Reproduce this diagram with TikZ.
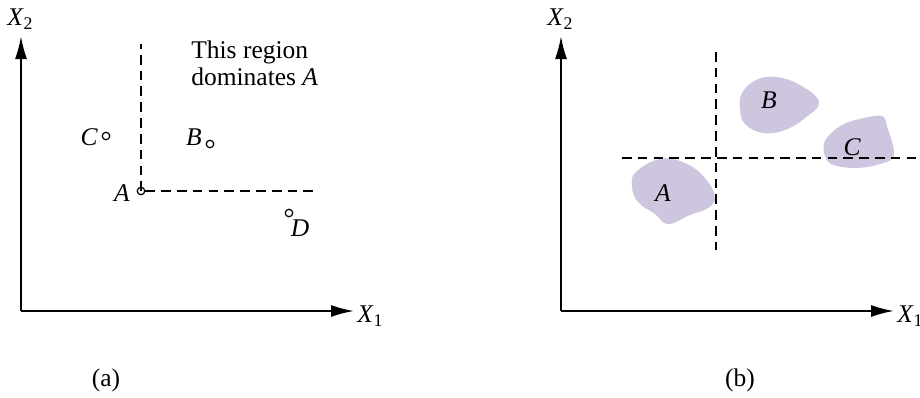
\documentclass[tikz,border=0pt]{standalone}
\usepackage{fontspec}
\setmainfont{Liberation Serif}
\usetikzlibrary{arrows.meta}
\definecolor{blobfill}{RGB}{206,197,222}
\begin{document}
\begin{tikzpicture}[
    x=0.02cm, y=-0.02cm,
    every node/.style={font=\fontsize{14.5}{15.5}\selectfont, inner sep=0pt},
    axisarrow/.style={->, >={Latex[length=4.6mm, width=2.4mm]}, line width=1.1pt},
    dashline/.style={dash pattern=on 5.5pt off 3.5pt, line width=0.8pt},
    ptcircle/.style={circle, draw, line width=0.7pt, minimum size=0.15cm, inner sep=0pt},
    blob/.style={fill=blobfill, draw=none},
    lbl/.style={font=\fontsize{14.5}{15.5}\selectfont\itshape},
]
\useasboundingbox (0,0) rectangle (920,397);

% Panel (a)
\coordinate (Oa) at (21,311);
\coordinate (Ya) at (21,36);
\coordinate (Xa) at (354,311);
\draw[axisarrow] (Oa) -- (Ya);
\draw[axisarrow] (Oa) -- (Xa);
\node[anchor=south west] (X2a) at (7,30) {\textit{X}\textsubscript{2}};
\node[anchor=west] (X1a) at (357,316) {\textit{X}\textsubscript{1}};

\node[ptcircle] (pA) at (141,191) {};
\node[ptcircle] (pB) at (210,144) {};
\node[ptcircle] (pC) at (106,136) {};
\node[ptcircle] (pD) at (289,213) {};
\coordinate (topA) at (141,44);
\coordinate (rightA) at (318,191);
\draw[dashline] (pA.center) -- (topA);
\draw[dashline] (pA.east) -- (rightA);
\node[lbl] (lA) at (122,193) {A};
\node[lbl] (lB) at (194,137) {B};
\node[lbl] (lC) at (89,137) {C};
\node[lbl] (lD) at (300,228) {D};
\node[anchor=north west, align=left] (region) at (191,40) {This region\\dominates \textit{A}};
\node (capa) at (106,380) {(a)};

% Panel (b)
\coordinate (Ob) at (561,311);
\coordinate (Yb) at (561,36);
\coordinate (Xb) at (894,311);
\draw[axisarrow] (Ob) -- (Yb);
\draw[axisarrow] (Ob) -- (Xb);
\node[anchor=south west] (X2b) at (547,30) {\textit{X}\textsubscript{2}};
\node[anchor=west] (X1b) at (897,316) {\textit{X}\textsubscript{1}};

\fill[blob] plot[smooth cycle, tension=0.7] coordinates {(636,172) (660,159) (685,163) (705,178) (715,197) (708,208) (690,215) (668,224) (655,214) (638,202) (632,186)};
\fill[blob] plot[smooth cycle, tension=0.7] coordinates {(742,93) (756,80) (776,77) (800,85) (819,102) (805,118) (785,130) (763,133) (745,124) (740,109)};
\fill[blob] plot[smooth cycle, tension=0.6] coordinates {(826,139) (842,125) (864,118) (882,116) (887,126) (894,155) (880,164) (855,168) (831,164) (824,152)};

\coordinate (vtop) at (716,52);
\coordinate (vbot) at (716,250);
\coordinate (hleft) at (622,158);
\coordinate (hright) at (917,158);
\draw[dashline] (vtop) -- (vbot);
\draw[dashline] (hleft) -- (hright);
\node[lbl] (bA) at (663,193) {A};
\node[lbl] (bB) at (769,100) {B};
\node[lbl] (bC) at (852,147) {C};
\node (capb) at (740,380) {(b)};
\end{tikzpicture}
\end{document}
